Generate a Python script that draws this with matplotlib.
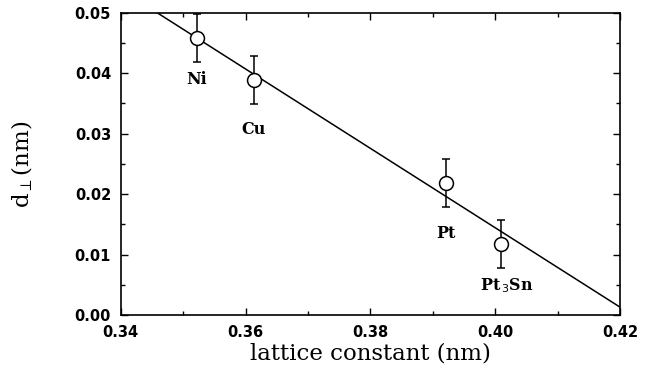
import numpy as np
import matplotlib.pyplot as plt
from matplotlib.ticker import MultipleLocator

# data
materials = ['Ni', 'Cu', 'Pt', 'Pt$_{\\,3}$Sn']
lattice = [0.3522, 0.3613, 0.3921, 0.4009]
d_perp = [0.0458, 0.0389, 0.0218, 0.0118]
d_err = [0.004, 0.004, 0.004, 0.004]
fit_x = [0.3458, 0.42]
fit_y = [0.050, 0.0013]

# label offsets (points) below each point
label_dx = [0, 0, 0, 4]
label_dy = [-30, -36, -36, -30]

fig = plt.figure(figsize=(6.46, 3.72), dpi=100)
ax = fig.add_axes([0.187, 0.153, 0.773, 0.813])

ax.plot(fit_x, fit_y, color='black', lw=1.1, clip_on=True)
ax.errorbar(lattice, d_perp, yerr=d_err, fmt='o', mfc='white', mec='black',
            ms=10, mew=1.1, ecolor='black', elinewidth=1.1, capsize=3,
            capthick=1.1, zorder=3)

for name, x, y, dx, dy in zip(materials, lattice, d_perp, label_dx, label_dy):
    ax.annotate(name, (x, y), xytext=(dx, dy), textcoords='offset points',
                ha='center', va='center', fontsize=11.5, fontweight='bold',
                family='DejaVu Serif')

ax.set_xlim(0.34, 0.42)
ax.set_ylim(0.0, 0.05)
ax.xaxis.set_major_locator(MultipleLocator(0.02))
ax.xaxis.set_minor_locator(MultipleLocator(0.01))
ax.yaxis.set_major_locator(MultipleLocator(0.01))
ax.yaxis.set_minor_locator(MultipleLocator(0.005))
ax.tick_params(which='both', direction='in', top=True, right=True, width=1)
ax.tick_params(which='major', length=5, labelsize=10.5, pad=7)
ax.tick_params(which='minor', length=3)
ax.xaxis.set_major_formatter(plt.FormatStrFormatter('%.2f'))
ax.yaxis.set_major_formatter(plt.FormatStrFormatter('%.2f'))
for lbl in ax.get_xticklabels() + ax.get_yticklabels():
    lbl.set_fontweight('bold')
    lbl.set_family('DejaVu Sans')
for s in ax.spines.values():
    s.set_linewidth(1.2)

ax.set_xlabel('lattice constant (nm)', family='DejaVu Serif', fontsize=16.5,
              labelpad=2)
ax.set_ylabel('d$_{\\perp}$(nm)', family='DejaVu Serif', fontsize=16.5)
ax.yaxis.set_label_coords(-0.172, 0.5)

fig.savefig('out.png', dpi=100)
